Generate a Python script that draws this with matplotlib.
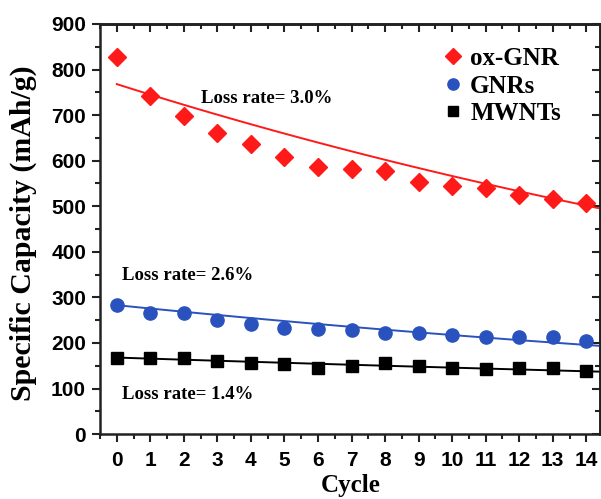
import numpy as np
import matplotlib
matplotlib.use('Agg')
import matplotlib.pyplot as plt

#
# data
#
cycles = np.arange(0, 15)
ox_gnr = [827, 742, 698, 661, 637, 608, 586, 582, 577, 553, 544, 540, 525, 516, 507]
gnrs   = [283, 266, 265, 250, 241, 233, 230, 228, 222, 222, 218, 214, 214, 214, 205]
mwnts  = [168, 167, 167, 160, 156, 154, 146, 149, 155, 149, 146, 143, 146, 146, 138]

# fitted decay curves: start value and loss rate per cycle
fit_start = [768, 283, 168]
fit_rate  = [0.030, 0.026, 0.014]

labels = ['ox-GNR', 'GNRs', 'MWNTs']
colors = ['#ff1a1a', '#2a52be', 'black']
markers = ['D', 'o', 's']
msizes = [9, 9.5, 8.5]

serif = 'Liberation Serif'
sans = 'Liberation Sans'


def main():
    fig = plt.figure(figsize=(6.01, 4.99), dpi=100)
    ax = fig.add_axes([0.1664, 0.130, 0.8326, 0.822])

    xf = np.linspace(0, 14.6, 100)
    series = [ox_gnr, gnrs, mwnts]
    for k in range(3):
        yf = fit_start[k] * (1 - fit_rate[k]) ** xf
        ax.plot(xf, yf, color=colors[k], lw=1.4, zorder=2)
        ax.plot(cycles, series[k], linestyle='none', marker=markers[k],
                color=colors[k], ms=msizes[k], label=labels[k], zorder=3)

    ax.set_xlim(-0.48, 14.42)
    ax.set_ylim(0, 900)
    ax.set_xticks(np.arange(0, 15, 1))
    ax.set_xticks(np.arange(-0.5, 14.5, 0.5), minor=True)
    ax.set_yticks(np.arange(0, 901, 100))
    ax.set_yticks(np.arange(0, 901, 50), minor=True)

    ax.tick_params(which='both', direction='out', width=1.5, colors='#222222',
                   top=False, right=False)
    ax.tick_params(which='major', length=6)
    ax.tick_params(which='minor', length=3.5)
    ax.tick_params(axis='x', which='major', pad=6)
    ax.tick_params(axis='y', which='major', pad=4)
    for lab in ax.get_xticklabels() + ax.get_yticklabels():
        lab.set_fontfamily(sans)
        lab.set_fontweight('bold')
        lab.set_fontsize(15)
        lab.set_color('black')

    # inward ticks on top and right
    sec_x = ax.secondary_xaxis('top')
    sec_x.set_xticks(np.arange(0, 15, 1))
    sec_x.set_xticks(np.arange(-0.5, 14.5, 0.5), minor=True)
    sec_x.tick_params(which='both', direction='in', labeltop=False, width=1.5, colors='#222222')
    sec_x.tick_params(which='major', length=6)
    sec_x.tick_params(which='minor', length=3.5)
    sec_y = ax.secondary_yaxis('right')
    sec_y.set_yticks(np.arange(0, 901, 100))
    sec_y.set_yticks(np.arange(0, 901, 50), minor=True)
    sec_y.tick_params(which='both', direction='in', labelright=False, width=1.5, colors='#222222')
    sec_y.tick_params(which='major', length=6)
    sec_y.tick_params(which='minor', length=3.5)

    for s in ax.spines.values():
        s.set_linewidth(1.8)
        s.set_color('#222222')
    sec_x.spines['top'].set_linewidth(1.8)
    sec_y.spines['right'].set_linewidth(1.8)

    ax.set_xlabel('Cycle', fontfamily=serif, fontweight='bold', fontsize=18, labelpad=3)
    ax.set_ylabel('Specific Capacity (mAh/g)', fontfamily=serif, fontweight='bold',
                  fontsize=21.5)
    ax.yaxis.set_label_coords(-0.125, 0.49)

    ax.text(2.5, 737, 'Loss rate= 3.0%', fontfamily=serif, fontweight='bold', fontsize=13.5,
            va='center')
    ax.text(0.15, 347, 'Loss rate= 2.6%', fontfamily=serif, fontweight='bold', fontsize=13.5,
            va='center')
    ax.text(0.15, 88, 'Loss rate= 1.4%', fontfamily=serif, fontweight='bold', fontsize=13.5,
            va='center')

    ax.legend(loc='upper right', bbox_to_anchor=(0.951, 0.98), frameon=False,
              prop={'family': serif, 'weight': 'bold', 'size': 18},
              handletextpad=0.1, labelspacing=0.18, handlelength=1.2,
              markerscale=0.85, borderaxespad=0.2)

    plt.savefig('out.png', dpi=100)


main()
